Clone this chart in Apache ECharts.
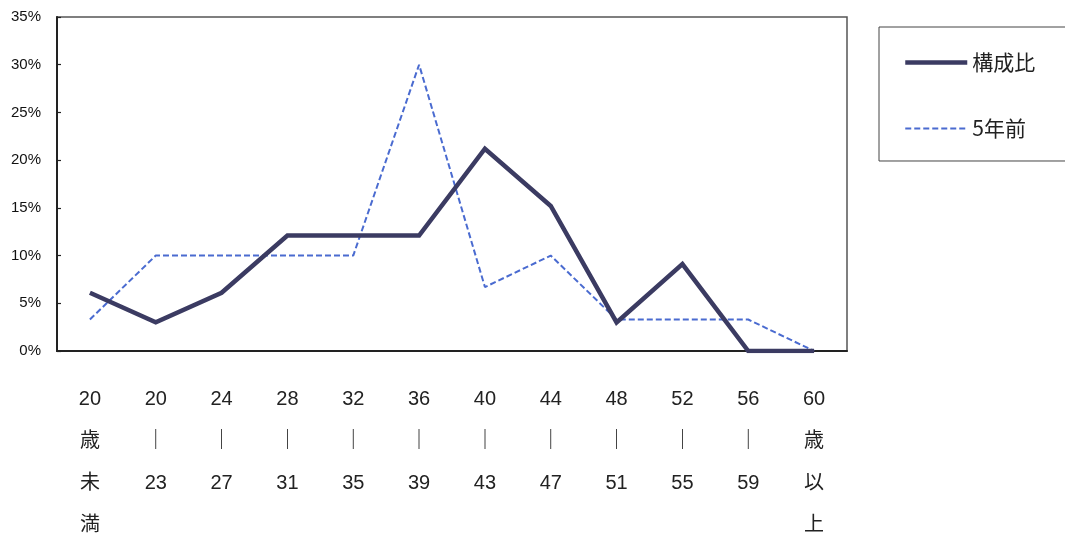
<!DOCTYPE html>
<html lang="ja">
<head>
<meta charset="utf-8">
<title>年齢構成</title>
<script src="https://cdn.jsdelivr.net/npm/echarts@6/dist/echarts.min.js"></script>
<style>
  html, body { margin: 0; padding: 0; background: #fff; }
  #chart { width: 1065px; height: 535px; }
</style>
</head>
<body>
<div id="chart"></div>
<script>
// 年齢区分（縦書き風に改行）
var categories = [
  '20\n歳\n未\n満', '20\n｜\n23', '24\n｜\n27', '28\n｜\n31', '32\n｜\n35', '36\n｜\n39',
  '40\n｜\n43', '44\n｜\n47', '48\n｜\n51', '52\n｜\n55', '56\n｜\n59', '60\n歳\n以\n上'
];
// 構成比（%）
var ratioNow = [6.1, 3.0, 6.1, 12.1, 12.1, 12.1, 21.2, 15.2, 3.0, 9.1, 0, 0];
// 5年前（%）
var ratioPrev = [3.3, 10, 10, 10, 10, 30, 6.7, 10, 3.3, 3.3, 3.3, 0];
var yTicks = [0, 5, 10, 15, 20, 25, 30, 35];

var chart = echarts.init(document.getElementById('chart'));

chart.setOption({
  backgroundColor: '#fff',
  animation: false,
  grid: {
    left: 57, right: 218, top: 17, bottom: 184,
    outerBoundsMode: 'none',
    show: true, borderColor: '#555', borderWidth: 1.5, backgroundColor: 'transparent'
  },
  legend: {
    orient: 'vertical',
    left: 879, top: 27,
    padding: [25, 80, 22, 24],
    itemGap: 45,
    itemWidth: 62, itemHeight: 22,
    borderColor: '#444', borderWidth: 1,
    itemStyle: { opacity: 0 },
    lineStyle: { width: 'inherit' },
    textStyle: { fontSize: 21, color: '#222', fontFamily: '"Noto Sans CJK JP", sans-serif' },
    data: ['構成比', '5年前']
  },
  xAxis: {
    type: 'category',
    data: categories,
    boundaryGap: true,
    axisLine: { show: true, lineStyle: { color: '#222', width: 2 } },
    axisTick: { show: false },
    axisLabel: {
      interval: 0,
      margin: 27,
      lineHeight: 42,
      fontSize: 20,
      color: '#222',
      fontFamily: '"Liberation Sans", "Noto Sans CJK JP", sans-serif',
      verticalAlign: 'top'
    }
  },
  yAxis: {
    type: 'value',
    min: yTicks[0], max: yTicks[yTicks.length - 1], interval: 5,
    axisLine: { show: true, lineStyle: { color: '#222', width: 2 } },
    axisTick: { show: true, inside: true, length: 4, lineStyle: { color: '#222', width: 1.2 } },
    splitLine: { show: false },
    axisLabel: {
      margin: 16,
      fontSize: 15,
      color: '#111',
      fontFamily: '"Liberation Sans", Arial, sans-serif',
      formatter: '{value}%'
    }
  },
  series: [
    {
      name: '構成比',
      type: 'line',
      data: ratioNow,
      symbol: 'none',
      z: 3,
      itemStyle: { color: '#3b3b62' },
      lineStyle: { color: '#3b3b62', width: 4.5, join: 'miter' }
    },
    {
      name: '5年前',
      type: 'line',
      data: ratioPrev,
      symbol: 'none',
      z: 2,
      itemStyle: { color: '#4a6bd0' },
      lineStyle: { color: '#4a6bd0', width: 2, type: [6, 3] }
    }
  ]
});
</script>
</body>
</html>
